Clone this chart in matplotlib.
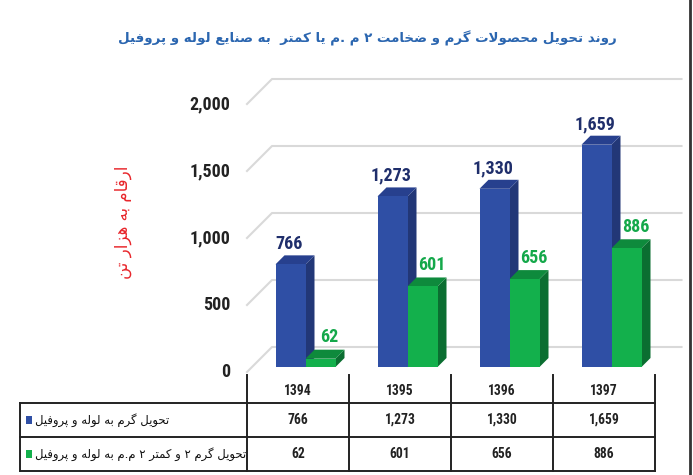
import numpy as np
import matplotlib.pyplot as plt
from matplotlib import font_manager
from matplotlib.patches import Polygon, Rectangle
from matplotlib.lines import Line2D

# data
years = ['1394', '1395', '1396', '1397']
hot_all = [766, 1273, 1330, 1659]     # تحویل گرم به لوله و پروفیل
hot_thin = [62, 601, 656, 886]        # تحویل گرم ۲ و کمتر ۲ م.م
yticks = [0, 500, 1000, 1500, 2000]

title_fa = 'روند تحویل محصولات گرم و ضخامت ۲ م .م یا کمتر  به صنایع لوله و پروفیل'
ylabel_fa = 'ارقام به هزار تن'
row_labels = ['تحویل گرم به لوله و پروفیل',
              'تحویل گرم ۲ و کمتر ۲ م.م به لوله و پروفیل']

# colours (front, top, side)
blue = ('#2F4FA5', '#27408E', '#223777')
green = ('#13B04C', '#0E8A3C', '#0B6E31')
blue_txt = '#1F2E6B'
green_txt = '#14A84A'

# minimal persian shaping (matplotlib has no bidi / joining)
FORMS = {
    'ا': (0xFE8D, 0xFE8E, None, None),
    'ب': (0xFE8F, 0xFE90, 0xFE91, 0xFE92),
    'پ': (0xFB56, 0xFB57, 0xFB58, 0xFB59),
    'ت': (0xFE95, 0xFE96, 0xFE97, 0xFE98),
    'ح': (0xFEA1, 0xFEA2, 0xFEA3, 0xFEA4),
    'خ': (0xFEA5, 0xFEA6, 0xFEA7, 0xFEA8),
    'د': (0xFEA9, 0xFEAA, None, None),
    'ر': (0xFEAD, 0xFEAE, None, None),
    'ز': (0xFEAF, 0xFEB0, None, None),
    'ص': (0xFEB9, 0xFEBA, 0xFEBB, 0xFEBC),
    'ض': (0xFEBD, 0xFEBE, 0xFEBF, 0xFEC0),
    'ع': (0xFEC9, 0xFECA, 0xFECB, 0xFECC),
    'ف': (0xFED1, 0xFED2, 0xFED3, 0xFED4),
    'ق': (0xFED5, 0xFED6, 0xFED7, 0xFED8),
    'ک': (0xFB8E, 0xFB8F, 0xFB90, 0xFB91),
    'گ': (0xFB92, 0xFB93, 0xFB94, 0xFB95),
    'ل': (0xFEDD, 0xFEDE, 0xFEDF, 0xFEE0),
    'م': (0xFEE1, 0xFEE2, 0xFEE3, 0xFEE4),
    'ن': (0xFEE5, 0xFEE6, 0xFEE7, 0xFEE8),
    'ه': (0xFEE9, 0xFEEA, 0xFEEB, 0xFEEC),
    'و': (0xFEED, 0xFEEE, None, None),
    'ی': (0xFBFC, 0xFBFD, 0xFBFE, 0xFBFF),
}


def dual(c):
    return c in FORMS and FORMS[c][2] is not None


def fa(text):
    out = []
    n = len(text)
    i = 0
    while i < n:
        c = text[i]
        if c not in FORMS:
            out.append(c)
            i += 1
            continue
        jp = i > 0 and dual(text[i - 1])
        if c == 'ل' and i + 1 < n and text[i + 1] == 'ا':
            out.append(chr(0xFEFC if jp else 0xFEFB))
            i += 2
            continue
        jn = dual(c) and i + 1 < n and text[i + 1] in FORMS
        iso, fin, ini, med = FORMS[c]
        g = med if (jp and jn) else fin if jp else ini if jn else iso
        out.append(chr(g))
        i += 1
    return ''.join(out)[::-1]


# pick a narrow font for the numbers if one is around
have = {f.name for f in font_manager.fontManager.ttflist}
narrow = [f for f in ['Liberation Sans Narrow', 'Roboto Condensed',
                      'Open Sans Condensed', 'DejaVu Sans Condensed'] if f in have]
condensed_dejavu = any(f.name == 'DejaVu Sans' and f.stretch == 'condensed'
                       for f in font_manager.fontManager.ttflist)
if narrow:
    NUM = dict(family=narrow[0])
    big, small = 13, 9.8
elif condensed_dejavu:
    NUM = dict(family='DejaVu Sans', fontstretch='condensed')
    big, small = 12, 9
else:
    NUM = dict(family='Roboto')
    big, small = 11.5, 8.5
FA_FONT = ['DejaVu Sans']

W, H = 693, 475
fig = plt.figure(figsize=(W / 100, H / 100), dpi=100)

# main axes: value 0 at y=372px, 2000 at y=104px, category pitch 102px
ppu = 268 / 2000.0
pitch = 102.0
ax = fig.add_axes([247 / W, (H - 372) / H, 434.5 / W, 2200 * ppu / H])
ax.set_xlim(-0.5, -0.5 + 434.5 / pitch)
ax.set_ylim(0, 2200)
ax.axis('off')

DX, DY = 25 / pitch, 25 / ppu          # wall depth
bdx, bdy = 9 / pitch, 9 / ppu          # bar depth
bw = 30 / pitch                         # bar width
base = 5 / ppu                          # bar floor offset
x_right = ax.get_xlim()[1]

# side wall + back wall gridlines
for v in yticks:
    ax.plot([-0.5, -0.5 + DX, x_right], [v, v + DY, v + DY],
            color='#D9D9D9', lw=1.5, zorder=1, clip_on=False)
    ax.text(-0.5 - 17 / pitch, v, f'{v:,}', ha='right', va='center',
            fontsize=big, fontweight='bold', color='#222222', **NUM)


def bar3d(x0, h, cols):
    y0 = base
    y1 = base + h
    side = [(x0 + bw, y0), (x0 + bw + bdx, y0 + bdy), (x0 + bw + bdx, y1 + bdy), (x0 + bw, y1)]
    top = [(x0, y1), (x0 + bdx, y1 + bdy), (x0 + bw + bdx, y1 + bdy), (x0 + bw, y1)]
    front = [(x0, y0), (x0 + bw, y0), (x0 + bw, y1), (x0, y1)]
    ax.add_patch(Polygon(side, closed=True, fc=cols[2], ec='none', zorder=3))
    ax.add_patch(Polygon(top, closed=True, fc=cols[1], ec='none', zorder=3))
    ax.add_patch(Polygon(front, closed=True, fc=cols[0], ec='none', zorder=3))


for i in range(len(years)):
    xb = i - 22.5 / pitch
    xg = xb + bw
    bar3d(xb, hot_all[i], blue)
    bar3d(xg, hot_thin[i], green)
    ax.text(xb + bw / 2 - 1 / pitch, base + hot_all[i] + bdy + 20, f'{hot_all[i]:,}',
            ha='center', va='bottom', fontsize=big, fontweight='bold',
            color=blue_txt, zorder=4, **NUM)
    ax.text(xg + bw / 2 + 9 / pitch, base + hot_thin[i] + bdy + 25, f'{hot_thin[i]:,}',
            ha='center', va='bottom', fontsize=big, fontweight='bold',
            color=green_txt, zorder=4, **NUM)

# data table under the chart
tab = fig.add_axes([20 / W, (H - 471) / H, 635 / W, 96 / H])
x_left = -0.5 - 227 / pitch
tab.set_xlim(x_left, 3.5)
tab.set_ylim(0, 96 / 34)
tab.axis('off')
lc = '#222222'
for y in [0, 1, 2]:
    tab.plot([x_left, 3.5], [y, y], color=lc, lw=1.4, clip_on=False)
tab.plot([x_left, x_left], [0, 2], color=lc, lw=1.4, clip_on=False)
for k in range(len(years) + 1):
    tab.plot([k - 0.5, k - 0.5], [0, 96 / 34], color=lc, lw=1.4, clip_on=False)

for i, yr in enumerate(years):
    tab.text(i, 2.36, yr, ha='center', va='center', fontsize=small,
             fontweight='bold', color='#222222', **NUM)
    tab.text(i, 1.5, f'{hot_all[i]:,}', ha='center', va='center', fontsize=small,
             fontweight='bold', color='#222222', **NUM)
    tab.text(i, 0.5, f'{hot_thin[i]:,}', ha='center', va='center', fontsize=small,
             fontweight='bold', color='#222222', **NUM)

for r, (lab, col) in enumerate(zip(row_labels, [blue[0], green[0]])):
    yc = 1.5 - r
    tab.add_patch(Rectangle((x_left + 6 / pitch, yc - 0.11), 6 / pitch, 0.22,
                            fc=col, ec='none', clip_on=False))
    tab.text(x_left + 15 / pitch, yc, fa(lab), ha='left', va='center',
             fontsize=8.4, color='#111111', family=FA_FONT)

# title and axis label
fig.text(367 / W, 1 - 38 / H, fa(title_fa), ha='center', va='center',
         fontsize=9.6, fontweight='bold', color='#2B66B0', family=FA_FONT)
fig.text(123 / W, 1 - 222 / H, fa(ylabel_fa), ha='center', va='center',
         rotation=90, fontsize=12, color='#E8262B', family=FA_FONT)

# right frame line
fig.add_artist(Line2D([690 / W, 690 / W], [0, 1], transform=fig.transFigure,
                      color='#333333', lw=2))

fig.savefig('out.png', dpi=100)
